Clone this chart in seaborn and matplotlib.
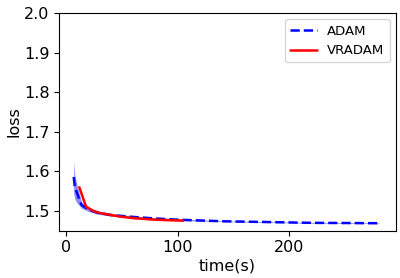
import numpy as np
import pandas as pd
import matplotlib
matplotlib.use("Agg")
import matplotlib.pyplot as plt
import seaborn as sns

# ADAM run (time in seconds, mean loss, band)
adam_t = [7, 8, 10, 14, 20, 28, 40, 60, 80, 100, 140, 180, 220, 280]
adam_loss = [1.586, 1.56, 1.545, 1.515, 1.504, 1.496, 1.49, 1.485, 1.481, 1.478, 1.474, 1.472, 1.470, 1.469]
adam_lo = [1.545, 1.53, 1.52, 1.507, 1.499, 1.492, 1.487, 1.483, 1.479, 1.476, 1.473, 1.471, 1.469, 1.468]
adam_hi = [1.625, 1.59, 1.565, 1.522, 1.509, 1.50, 1.493, 1.487, 1.483, 1.480, 1.475, 1.473, 1.471, 1.470]

# VRADAM run
vradam_t = [12, 18, 24, 30, 48, 60, 80, 105]
vradam_loss = [1.56, 1.511, 1.501, 1.495, 1.486, 1.482, 1.478, 1.4755]
vradam_lo = [1.555, 1.508, 1.499, 1.493, 1.485, 1.480, 1.476, 1.474]
vradam_hi = [1.565, 1.514, 1.503, 1.497, 1.488, 1.484, 1.480, 1.477]

sns.set_style("ticks", {'axes.edgecolor': 'black', 'xtick.color': 'black',
                        'ytick.color': 'black', 'text.color': 'black',
                        'axes.labelcolor': 'black'})
plt.rcParams['font.family'] = ['DejaVu Sans']

fig, ax = plt.subplots(figsize=(4.0, 2.78), dpi=100)

ax.fill_between(adam_t, adam_lo, adam_hi, color='blue', alpha=0.45, linewidth=0)
ax.fill_between(vradam_t, vradam_lo, vradam_hi, color='red', alpha=0.2, linewidth=0)
sns.lineplot(x=adam_t, y=adam_loss, ax=ax, color='blue', linestyle='--', linewidth=1.8, label='ADAM')
sns.lineplot(x=vradam_t, y=vradam_loss, ax=ax, color='red', linewidth=1.8, label='VRADAM')

ax.set_ylim(1.45, 2.0)
ax.set_xlim(-6, 295)
ax.set_xticks([0, 100, 200])
ax.set_yticks([1.5, 1.6, 1.7, 1.8, 1.9, 2.0])
ax.set_xlabel('time(s)', fontsize=11.5, labelpad=2)
ax.set_ylabel('loss', fontsize=11.5, labelpad=2)
ax.tick_params(labelsize=11.5, length=3.5, width=0.8)
ax.legend(loc='upper right', fontsize=9.5, borderaxespad=0.45)

fig.subplots_adjust(left=0.148, right=0.989, top=0.952, bottom=0.170)
fig.savefig('out.png', dpi=100)
